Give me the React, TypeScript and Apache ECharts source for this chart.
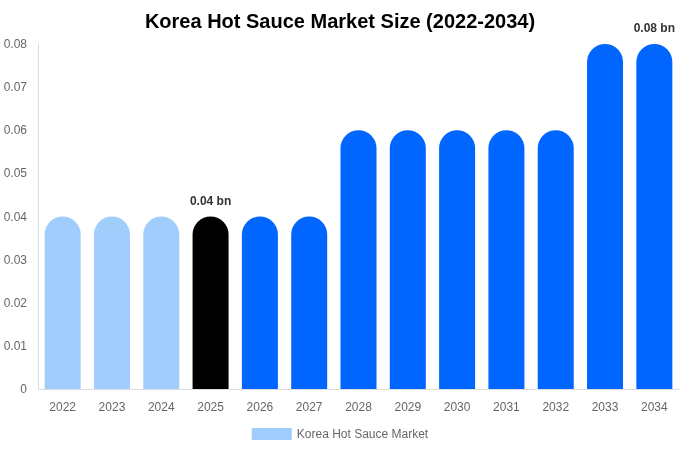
import React, { useEffect, useRef } from 'react';
import * as echarts from 'echarts';

const years = ['2022', '2023', '2024', '2025', '2026', '2027', '2028', '2029', '2030', '2031', '2032', '2033', '2034'];
const values = [0.04, 0.04, 0.04, 0.04, 0.04, 0.04, 0.06, 0.06, 0.06, 0.06, 0.06, 0.08, 0.08];
const barColors = ['#a1cdfd', '#a1cdfd', '#a1cdfd', '#000000', '#0066ff', '#0066ff', '#0066ff', '#0066ff', '#0066ff', '#0066ff', '#0066ff', '#0066ff', '#0066ff'];
const labelled = ['2025', '2034'];

const App: React.FC = () => {
    const chartRef = useRef<HTMLDivElement>(null);

    useEffect(() => {
        if (!chartRef.current) return;
        const chart = echarts.init(chartRef.current, null, { renderer: 'svg' });

        const option = {
            animation: false,
            textStyle: { fontFamily: 'Liberation Sans, Arial, sans-serif' },
            title: {
                text: 'Korea Hot Sauce Market Size (2022-2034)',
                left: 'center',
                top: 6,
                textStyle: { fontSize: 20, fontWeight: 'bold', color: '#000' }
            },
            legend: {
                bottom: 5,
                left: 'center',
                icon: 'rect',
                itemWidth: 40,
                itemHeight: 12,
                textStyle: { color: '#666', fontSize: 12 },
                data: [{ name: 'Korea Hot Sauce Market', itemStyle: { color: '#a1cdfd' } }]
            },
            grid: { left: 38, right: 1, top: 44, bottom: 61, containLabel: false },
            xAxis: {
                type: 'category',
                data: years,
                axisLine: { lineStyle: { color: '#dddddd' } },
                axisTick: { show: false },
                axisLabel: { color: '#666', fontSize: 12, margin: 12 }
            },
            yAxis: {
                type: 'value',
                min: 0,
                max: 0.08,
                interval: 0.01,
                axisLine: { show: true, lineStyle: { color: '#dddddd' } },
                splitLine: { show: false },
                axisLabel: { color: '#666', fontSize: 12, margin: 11 }
            },
            series: [{
                name: 'Korea Hot Sauce Market',
                type: 'bar',
                barWidth: 36,
                data: values.map((v, i) => ({
                    value: v,
                    itemStyle: { color: barColors[i], borderRadius: [18, 18, 0, 0] },
                    label: {
                        show: labelled.includes(years[i]),
                        position: 'top',
                        distance: 10,
                        formatter: (p: any) => `${p.value} bn`,
                        fontWeight: 'bold',
                        fontSize: 12,
                        color: '#333'
                    }
                }))
            }]
        };

        chart.setOption(option);
        return () => {
            chart.dispose();
        };
    }, []);

    return (
        <div ref={chartRef} style={{ position: 'fixed', left: 0, top: 0, width: 680, height: 450 }} />
    );
};

export default App;
